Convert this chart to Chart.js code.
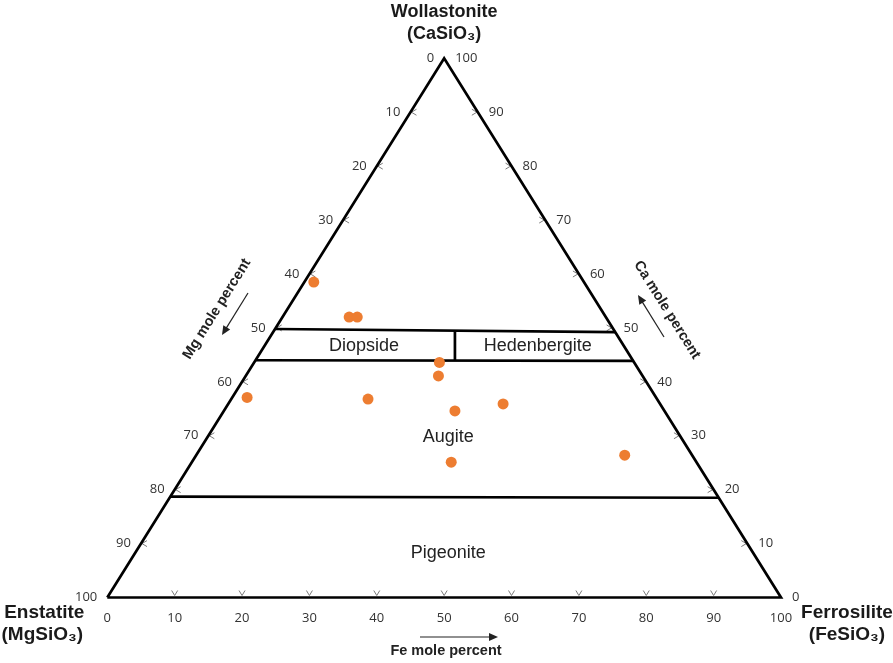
<!DOCTYPE html>
<html><head><meta charset="utf-8">
<script src="https://cdn.jsdelivr.net/npm/chart.js@4/dist/chart.umd.min.js"></script>
<style>html,body{margin:0;padding:0;background:#fff;} #c{display:block;}</style>
</head><body>
<canvas id="c" width="893" height="663"></canvas>
<script>
// Sample compositions (mole percent)
const caPct = [58.5, 52.0, 52.0, 43.6, 41.1, 37.1, 36.8, 34.6, 35.9, 25.1, 26.4];
const mgPct = [40.1, 38.1, 36.9, 28.9, 30.3, 60.7, 42.9, 31.1, 23.3, 36.4, 10.0];
const fePct = [1.4, 9.9, 11.1, 27.5, 28.6, 2.2, 20.3, 34.3, 40.8, 38.5, 63.6];

// Tick values along each side
const tickValues = [0, 10, 20, 30, 40, 50, 60, 70, 80, 90, 100];

// End-member names
const vertexNames = ['Wollastonite', 'Enstatite', 'Ferrosilite'];
const vertexFormulas = ['(CaSiO\u2083)', '(MgSiO\u2083)', '(FeSiO\u2083)'];
const axisTitles = ['Mg mole percent', 'Ca mole percent', 'Fe mole percent'];

// Field boundaries (Ca and Fe mole % at both ends of each segment)
const boundaryCa = [[49.8, 49.2], [44.0, 43.9], [18.7, 18.5], [49.5, 44.0]];
const boundaryFe = [[0, 50.8], [0, 56.1], [0, 81.5], [26.85, 29.6]];

// Field names and where they sit (Ca, Fe mole %)
const fieldNames = ['Diopside', 'Hedenbergite', 'Augite', 'Pigeonite'];
const fieldCa = [46.6, 46.6, 29.8, 8.3];
const fieldFe = [14.8, 40.6, 35.7, 46.45];

// ternary -> cartesian data coords
function toXY(ca, fe) { return { x: fe + ca / 2, y: ca }; }

const pointData = caPct.map((c, i) => toXY(c, fePct[i]));
const triangle = [toXY(0, 0), toXY(100, 0), toXY(0, 100), toXY(0, 0)];

const datasets = [{
  label: 'Samples', data: pointData, backgroundColor: '#ED7D31', borderWidth: 0,
  pointRadius: 5.5, pointHoverRadius: 5.5, order: 0, clip: false
}, {
  label: 'outline', data: triangle, showLine: true, borderColor: '#000', borderWidth: 2.7,
  pointRadius: 0, borderJoinStyle: 'miter', order: 1, clip: false
}];
boundaryCa.forEach((cas, i) => {
  datasets.push({
    label: 'b' + i, data: [toXY(cas[0], boundaryFe[i][0]), toXY(cas[1], boundaryFe[i][1])],
    showLine: true, borderColor: '#000', borderWidth: 2.7, pointRadius: 0, order: 2, clip: false
  });
});

function arrow(ctx, x1, y1, x2, y2, head) {
  const a = Math.atan2(y2 - y1, x2 - x1);
  ctx.beginPath(); ctx.moveTo(x1, y1);
  ctx.lineTo(x2 - Math.cos(a) * head * 0.8, y2 - Math.sin(a) * head * 0.8); ctx.stroke();
  ctx.beginPath(); ctx.moveTo(x2, y2);
  ctx.lineTo(x2 - head * Math.cos(a) + head * 0.45 * Math.sin(a), y2 - head * Math.sin(a) - head * 0.45 * Math.cos(a));
  ctx.lineTo(x2 - head * Math.cos(a) - head * 0.45 * Math.sin(a), y2 - head * Math.sin(a) + head * 0.45 * Math.cos(a));
  ctx.closePath(); ctx.fill();
}

const decor = {
  id: 'decor',
  beforeDatasetsDraw(chart) {
    const ctx = chart.ctx, sx = chart.scales.x, sy = chart.scales.y;
    const P = (ca, fe) => { const q = toXY(ca, fe); return [sx.getPixelForValue(q.x), sy.getPixelForValue(q.y)]; };
    ctx.save();
    ctx.strokeStyle = '#7a7a7a'; ctx.lineWidth = 1;
    tickValues.slice(1, -1).forEach(v => {
      // left edge (Mg)
      let [x, y] = P(100 - v, 0);
      ctx.beginPath(); ctx.moveTo(x + 6, y - 3); ctx.lineTo(x + 1, y); ctx.lineTo(x + 6, y + 3); ctx.stroke();
      // right edge (Ca)
      [x, y] = P(v, 100 - v);
      ctx.beginPath(); ctx.moveTo(x - 6, y - 3); ctx.lineTo(x - 1, y); ctx.lineTo(x - 6, y + 3); ctx.stroke();
      // bottom (Fe)
      [x, y] = P(0, v);
      ctx.beginPath(); ctx.moveTo(x - 3, y - 7); ctx.lineTo(x, y - 2); ctx.lineTo(x + 3, y - 7); ctx.stroke();
    });
    ctx.restore();
  },
  afterDatasetsDraw(chart) {
    const ctx = chart.ctx, sx = chart.scales.x, sy = chart.scales.y;
    const P = (ca, fe) => { const q = toXY(ca, fe); return [sx.getPixelForValue(q.x), sy.getPixelForValue(q.y)]; };
    ctx.save();
    ctx.fillStyle = '#333';
    ctx.font = '13px "Open Sans", "Liberation Sans", sans-serif';
    ctx.textBaseline = 'middle';
    tickValues.forEach(v => {
      let [x, y] = P(100 - v, 0);
      ctx.textAlign = 'right'; ctx.fillText(String(v), x - 10, y);
      [x, y] = P(v, 100 - v);
      ctx.textAlign = 'left'; ctx.fillText(String(v), x + 11, y);
      [x, y] = P(0, v);
      ctx.textAlign = 'center'; ctx.fillText(String(v), x, y + 21);
    });

    // field names
    ctx.fillStyle = '#222';
    ctx.font = '18px "Liberation Sans", Arial, sans-serif';
    ctx.textAlign = 'center';
    fieldNames.forEach((n, i) => { const [x, y] = P(fieldCa[i], fieldFe[i]); ctx.fillText(n, x, y); });

    // end-member names
    ctx.fillStyle = '#1a1a1a';
    ctx.font = 'bold 18px "Liberation Sans", Arial, sans-serif';
    let [ax, ay] = P(100, 0);
    ctx.fillText(vertexNames[0], ax, ay - 46);
    ctx.fillText(vertexFormulas[0], ax, ay - 24);
    ctx.font = 'bold 19px "Liberation Sans", Arial, sans-serif';
    let [lx, ly] = P(0, 0);
    ctx.fillText(vertexNames[1], lx - 63, ly + 15);
    ctx.fillText(vertexFormulas[1], lx - 65, ly + 37);
    let [rx, ry] = P(0, 100);
    ctx.fillText(vertexNames[2], rx + 66, ry + 15);
    ctx.fillText(vertexFormulas[2], rx + 66, ry + 37);

    // axis titles and arrows
    ctx.fillStyle = '#222'; ctx.strokeStyle = '#222'; ctx.lineWidth = 1.2;
    ctx.font = 'bold 14.5px "Liberation Sans", Arial, sans-serif';
    // Mg (left)
    ctx.save(); ctx.translate(217, 309); ctx.rotate(Math.atan2(ay - ly, ax - lx)); ctx.fillText(axisTitles[0], 0, 0); ctx.restore();
    arrow(ctx, 248, 293, 222, 335, 9);
    // Ca (right)
    ctx.save(); ctx.translate(667, 310); ctx.rotate(Math.atan2(ry - ay, rx - ax)); ctx.fillText(axisTitles[1], 0, 0); ctx.restore();
    arrow(ctx, 664, 337, 638, 295, 9);
    // Fe (bottom)
    ctx.fillText(axisTitles[2], 446, 651);
    arrow(ctx, 420, 637, 498, 637, 9);
    ctx.restore();
  }
};

new Chart(document.getElementById('c').getContext('2d'), {
  type: 'scatter',
  data: { datasets },
  options: {
    responsive: false, animation: false, devicePixelRatio: 1, events: [],
    layout: { padding: { left: 107.3, right: 112, top: 58.3, bottom: 65.5 } },
    scales: {
      x: { type: 'linear', min: 0, max: 100, display: false },
      y: { type: 'linear', min: 0, max: 100, display: false }
    },
    plugins: { legend: { display: false }, tooltip: { enabled: false } }
  },
  plugins: [decor]
});
</script>
</body></html>
